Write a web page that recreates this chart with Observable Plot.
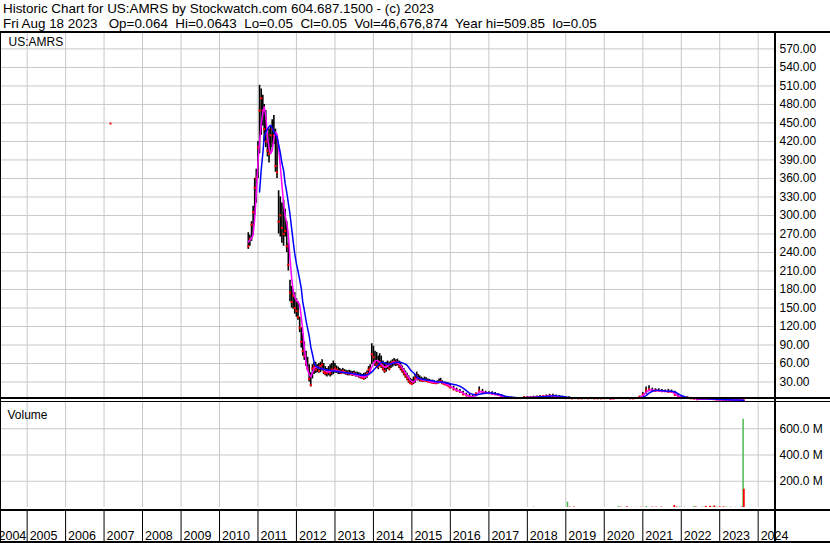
<!DOCTYPE html>
<html><head><meta charset="utf-8">
<script src="https://cdn.jsdelivr.net/npm/d3@7"></script>
<script src="https://cdn.jsdelivr.net/npm/@observablehq/plot@0.6"></script>
<style>
body{margin:0;background:#fff}
#wrap{position:relative;width:830px;height:543px;background:#fff;overflow:hidden;font-family:"Liberation Sans",Arial,sans-serif;color:#000}
.abs{position:absolute}
.ln{position:absolute;background:#000}
#hdr{left:3px;top:1px;font-size:13.4px;line-height:15px;white-space:pre}
</style></head><body>
<div id="wrap">
<div id="hdr" class="abs"></div>
<div id="main" class="abs" style="left:0;top:33px"></div>
<div id="vol" class="abs" style="left:0;top:402px"></div>
<div id="xax" class="abs" style="left:0;top:511px"></div>
<div class="ln" style="left:0;top:31px;width:830px;height:2px"></div>
<div class="ln" style="left:0;top:397px;width:830px;height:2px"></div>
<div class="ln" style="left:0;top:401px;width:830px;height:1px"></div>
<div class="ln" style="left:0;top:509px;width:830px;height:2px"></div>
<div class="ln" style="left:0;top:541px;width:830px;height:2px"></div>
<div class="ln" style="left:774px;top:31px;width:2px;height:512px"></div>
<div class="ln" style="left:0;top:31px;width:1px;height:512px"></div>
</div>
<script>
const headerLines = [
  "Historic Chart for US:AMRS by Stockwatch.com 604.687.1500 - (c) 2023",
  "Fri Aug 18 2023   Op=0.064  Hi=0.0643  Lo=0.05  Cl=0.05  Vol=46,676,874  Year hi=509.85  lo=0.05"
];
const symbolLabel = "US:AMRS";
const volumeLabel = "Volume";

const priceDates = [
"2010-10-01","2010-10-16","2010-11-01","2010-11-16","2010-12-01","2010-12-16",
"2011-01-01","2011-01-16","2011-02-01","2011-02-16","2011-03-01","2011-03-16","2011-04-01","2011-04-16","2011-05-01","2011-05-16","2011-06-01","2011-06-16",
"2011-07-01","2011-07-16","2011-08-01","2011-08-16","2011-09-01","2011-09-16","2011-10-01","2011-10-16","2011-11-01","2011-11-16","2011-12-01","2011-12-16",
"2012-01-01","2012-01-16","2012-02-01","2012-02-16","2012-03-01","2012-03-16","2012-04-01","2012-04-16","2012-05-01","2012-05-16","2012-06-01","2012-06-16",
"2012-07-01","2012-07-16","2012-08-01","2012-08-16","2012-09-01","2012-09-16","2012-10-01","2012-10-16","2012-11-01","2012-11-16","2012-12-01","2012-12-16",
"2013-01-01","2013-01-16","2013-02-01","2013-02-16","2013-03-01","2013-03-16","2013-04-01","2013-04-16","2013-05-01","2013-05-16","2013-06-01","2013-06-16",
"2013-07-01","2013-07-16","2013-08-01","2013-08-16","2013-09-01","2013-09-16","2013-10-01","2013-10-16","2013-11-01","2013-11-16","2013-12-01","2013-12-16",
"2014-01-01","2014-01-16","2014-02-01","2014-02-16","2014-03-01","2014-03-16","2014-04-01","2014-04-16","2014-05-01","2014-05-16","2014-06-01","2014-06-16",
"2014-07-01","2014-07-16","2014-08-01","2014-08-16","2014-09-01","2014-09-16","2014-10-01","2014-10-16","2014-11-01","2014-11-16","2014-12-01","2014-12-16",
"2015-01-01","2015-01-16","2015-02-01","2015-02-16","2015-03-01","2015-03-16","2015-04-01","2015-04-16","2015-05-01","2015-05-16","2015-06-01","2015-06-16",
"2015-07-01","2015-07-16","2015-08-01","2015-08-16","2015-09-01","2015-09-16","2015-10-01","2015-10-16","2015-11-01","2015-11-16","2015-12-01","2015-12-16",
"2016-01-01","2016-02-01","2016-03-01","2016-04-01","2016-05-01","2016-06-01","2016-07-01","2016-08-01","2016-09-01","2016-10-01","2016-11-01","2016-12-01",
"2017-01-01","2017-02-01","2017-03-01","2017-04-01","2017-05-01","2017-06-01","2017-07-01","2017-08-01","2017-09-01","2017-10-01","2017-11-01","2017-12-01",
"2018-01-01","2018-02-01","2018-03-01","2018-04-01","2018-05-01","2018-06-01","2018-07-01","2018-08-01","2018-09-01","2018-10-01","2018-11-01","2018-12-01",
"2019-01-01","2019-02-01","2019-03-01","2019-04-01","2019-05-01","2019-06-01","2019-07-01","2019-08-01","2019-09-01","2019-10-01","2019-11-01","2019-12-01",
"2020-01-01","2020-02-01","2020-03-01","2020-04-01","2020-05-01","2020-06-01","2020-07-01","2020-08-01","2020-09-01","2020-10-01","2020-11-01","2020-12-01",
"2021-01-01","2021-02-01","2021-03-01","2021-04-01","2021-05-01","2021-06-01","2021-07-01","2021-08-01","2021-09-01","2021-10-01","2021-11-01","2021-12-01",
"2022-01-01","2022-02-01","2022-03-01","2022-04-01","2022-05-01","2022-06-01","2022-07-01","2022-08-01","2022-09-01","2022-10-01","2022-11-01","2022-12-01",
"2023-01-01","2023-02-01","2023-03-01","2023-04-01","2023-05-01","2023-06-01","2023-07-01","2023-08-01","2023-08-18"
];
const high = [
272,268,290,315,360,375,420,511,505,495,
480,470,430,440,445,455,462,440,425,340,
330,320,325,310,290,255,195,185,180,175,
165,160,135,118,108,95,80,70,58,45,
58,62,62,58,60,62,66,60,55,52,
55,58,60,64,60,56,54,52,50,52,
50,49,48,49,48,47,48,46,46,45,
44,42,44,45,48,55,58,92,88,80,
78,72,76,72,64,60,62,64,62,64,
66,68,66,67,64,62,56,52,48,44,
40,36,34,38,42,46,42,40,38,36,
38,37,35,34,33,33,32,31,32,35,
36,32,30,30,29,28,
26,23,20,18,15,12,10,9,12,22,18,15,
14,14,13,11,9,7,6,5,5,5,5,6,
6,6,7,7,8,8,9,10,10,9,8,7,
6,6,5,5,4.5,4.5,5,5,5,4.5,4.5,4.5,
4.5,5,4.5,4.5,5,5,4.8,5,4.5,4.5,5,7,
13,22,24,20,19,19,18,17,18,17,15,10,
7,6,6,5,4,3.5,3.5,4,3.5,3,3,2.5,
2,1.8,1.5,1.2,1,1,0.8,0.6,0.0643
];
const low = [
245,250,258,268,300,320,360,400,430,445,
420,410,395,385,400,410,415,370,360,270,
265,255,250,265,240,210,160,150,148,140,
135,130,110,85,72,65,55,48,30,22,
35,42,44,45,44,45,48,42,40,38,
40,38,40,42,44,44,42,42,42,43,
42,41,40,40,40,39,40,38,38,36,
35,34,33,34,36,40,44,58,60,55,
52,50,55,52,48,44,46,50,48,52,
54,56,55,56,52,48,44,40,36,32,
28,26,25,26,28,32,32,30,30,29,
30,30,29,28,27,27,26,26,27,27,
28,26,25,24,23,21,
19,16,14,12,9,7,6,5,6,12,11,10,
10,9,8,7,5,4,3.5,3,3,3,3,3.5,
4,4,4,5,5,5.5,6,6,6,5,5,4,
3,3,3,3,3,3,3,3,3,2.8,2.8,3,
3,3,2,2.5,3.5,3.5,3.5,3.5,3,3,3,3.5,
6,10,14,14,13,14,13,13,12,12,8,5,
4,3.5,3.5,3,2.5,1.5,1.8,2.2,2,2,1.8,1.2,
1,1,0.9,0.7,0.5,0.5,0.4,0.2,0.05
];
const close = [
250,262,285,305,345,360,410,470,490,470,
440,420,405,400,430,440,430,380,370,290,
300,280,270,275,250,220,175,160,170,150,
145,135,118,95,80,72,60,52,35,25,
52,55,50,54,48,56,58,46,44,45,
48,44,50,48,52,50,48,46,45,48,
46,44,45,44,43,42,44,42,41,40,
38,37,36,40,44,50,52,75,70,62,
58,55,62,56,52,48,55,58,52,60,
62,63,60,62,56,52,48,44,40,36,
32,28,27,30,36,40,36,34,33,32,
33,32,31,30,30,29,29,28,29,30,
31,28,27,26,25,23,
21,18,16,14,10,8,7,6,11,16,13,12,
12,11,10,9,6,5,4.5,4,4,4,4,5,
5,5,5,6,6,7,7,8,7,6,6,5,
4,4,3.5,4,3.5,3.5,4,3.5,4,3.5,3.5,3.5,
3.8,4,3,3.5,4,4,4,4,3.5,3.5,4,6,
10,16,18,16,16,16,15,15,14,14,9,6,
5,4.5,4.5,3.5,3,2,2.5,3,2.5,2.5,2.2,1.5,
1.3,1.3,1,0.9,0.7,0.6,0.5,0.3,0.05
];
const maShort = [
257,260,263,268,295,335,385,420,448,468,
476,462,427,410,400,405,425,435,432,410,
380,350,320,300,288,270,230,200,178,168,
162,160,155,135,115,85,62,49,43,38,
45,52,54,54,53,52,52,50,48,47,
46,47,48,49,49,48,48,47,46,46,
46,45,44,44,43,43,42,41,40,40,
39,39,38,38,40,43,48,54,60,64,
65,64,61,59,56,54,54,56,58,59,
61,62,62,61,59,57,53,49,45,41,
37,33,31,30,32,35,36,35,34,33,
33,33,32,31,30,30,29,29,29,30,
30,29,28,27,26,25,
23,20,17,15,12,9,7,6,8,14,14,13,
12,11,10,9,7,5.5,4.5,4,4,4,4,4.5,
5,5,5,5.5,6,6.5,7,7.5,7.5,6.5,6,5,
4.5,4,3.5,3.8,3.6,3.6,3.8,3.7,3.8,3.6,3.5,3.6,
3.8,3.9,3.3,3.4,3.9,4,4,4,3.7,3.6,3.9,5,
8,13,17,17,16,16,15.5,15,14.5,14,11,7.5,
5.5,4.8,4.5,3.8,3.2,2.4,2.4,2.8,2.6,2.5,2.2,1.7,
1.4,1.3,1.1,0.95,0.75,0.65,0.55,0.35,0.1
];
const maLong = [
null,null,null,null,null,null,null,338,375,400,
427,435,440,444,446,442,435,431,427,415,
402,385,373,352,338,320,302,280,258,238,
222,210,196,182,160,146,130,117,105,87,
75,63,56,54,53,52,51,51,50,50,
49,49,48,48,48,47,47,46,46,46,
45,45,45,44,44,44,43,43,42,42,
41,41,41,41,42,43,44,46,49,52,
55,57,60,62,62,61,60,59,59,59,
60,61,61,62,62,62,61,60,59,57,
54,50,47,45,42,39,36,35,35,34,
34,33,33,33,32,32,31,31,30,30,
30,30,29,29,28,28,
27,26,25,23,20,16,12,10,9,10,11,12,
12,12,11,10,9,7,6,5.5,5,4.5,4.5,4.5,
5,5,5,5.5,5.5,6,6.5,7,7.5,7.5,7,6.5,
5.5,5,4.5,4.2,4,4,4,4,4,4,3.8,3.8,
3.8,3.9,3.7,3.6,3.7,3.9,4,4,4,3.8,3.8,4.2,
5.5,8,12,15,16.5,16.5,16,15.5,15,15,14,11,
8,6,5,4.5,4,3.2,2.8,2.7,2.7,2.6,2.5,2.2,
1.8,1.5,1.3,1.1,0.95,0.8,0.65,0.5,0.4
];
const strayDates = ["2007-03-03"];
const strayValues = [449];

const volDates = ["2018-03-01","2019-01-17","2019-02-06","2019-03-20","2020-05-14","2020-06-04","2020-08-04","2020-09-20","2020-10-30","2020-12-15",
"2021-02-03","2021-04-01","2021-05-08","2021-06-25","2021-10-27","2021-11-20","2021-12-20","2022-02-01","2022-05-01","2022-05-20",
"2022-07-20","2022-08-21","2022-10-01","2022-10-20","2022-11-10","2022-12-01","2023-01-01","2023-02-05","2023-03-01","2023-04-15",
"2023-06-01","2023-07-28","2023-08-11","2023-08-18"];
const volumeM = [3,41,3,3,8,3,6,2,2,2, 8,3,3,3,15,4,3,3,8,3, 3,9,9,3,12,4,5,5,4,3, 3,3,672,139];
const volUp =   [1,1,0,0,1,0,0,1,1,0, 1,0,0,0,0,0,1,1,1,0, 1,0,0,1,0,1,0,0,1,1, 1,0,1,0];

const gridYears = ["2005","2006","2007","2008","2009","2010","2011","2012","2013","2014","2015","2016","2017","2018","2019","2020","2021","2022","2023","2024"];
const yearLabels = ["2004","2005","2006","2007","2008","2009","2010","2011","2012","2013","2014","2015","2016","2017","2018","2019","2020","2021","2022","2023","2024"];
const priceTicks = [30,60,90,120,150,180,210,240,270,300,330,360,390,420,450,480,510,540,570];
const volTicks = [200,400,600];

document.getElementById("hdr").textContent = headerLines.join("\n");

const parse = d3.utcParse("%Y-%m-%d");
const rows = priceDates.map((d, i) => ({date: parse(d), hi: high[i], lo: low[i], cl: close[i], m: maShort[i], b: maLong[i]}));
const stray = strayDates.map((d, i) => ({date: parse(d), v: strayValues[i]}));
const volRows = volDates.map((d, i) => ({date: parse(d), v: volumeM[i], up: volUp[i] === 1}));
const gridDates = gridYears.map(y => parse(y + "-01-01"));
const xDomain = [parse("2004-04-23"), parse("2024-06-04")];

const common = {
  width: 830, marginLeft: 0, marginRight: 56, marginTop: 0, marginBottom: 0,
  x: {type: "utc", domain: xDomain, axis: null},
  style: {background: "transparent", color: "#000", fontFamily: "'Liberation Sans', Arial, sans-serif", fontSize: "12px", overflow: "visible"}
};

const main = Plot.plot({
  ...common, height: 367,
  y: {domain: [0, 595], axis: null},
  marks: [
    Plot.ruleX(gridDates, {stroke: "#c8c8c8", strokeWidth: 1}),
    Plot.ruleY(priceTicks, {stroke: "#c8c8c8", strokeWidth: 1}),
    Plot.axisY(priceTicks, {anchor: "right", tickSize: 0, tickPadding: 5, tickFormat: d => d.toFixed(2), label: null, fontSize: 12}),
    Plot.ruleX(rows, {x: "date", y1: "lo", y2: "hi", stroke: "#000", strokeWidth: 1.6}),
    Plot.dot(rows, {x: "date", y: "cl", symbol: "square", r: 1.2, fill: "#ff0000", stroke: null}),
    Plot.line(rows, {x: "date", y: "m", stroke: "#ff00ff", strokeWidth: 1.5}),
    Plot.line(rows, {x: "date", y: "b", stroke: "#0000ff", strokeWidth: 1.5}),
    Plot.dot(stray, {x: "date", y: "v", symbol: "square", r: 1.1, fill: "#ff0000", stroke: null}),
    Plot.text([symbolLabel], {frameAnchor: "top-left", dx: 8, dy: 12.5, lineAnchor: "bottom", textAnchor: "start", fontSize: 12})
  ]
});
document.getElementById("main").appendChild(main);

const vol = Plot.plot({
  ...common, height: 105,
  y: {domain: [0, 800], axis: null},
  marks: [
    Plot.ruleX(gridDates, {stroke: "#c8c8c8", strokeWidth: 1}),
    Plot.ruleY(volTicks, {stroke: "#c8c8c8", strokeWidth: 1}),
    Plot.axisY(volTicks, {anchor: "right", tickSize: 0, tickPadding: 5, tickFormat: d => d.toFixed(1) + " M", label: null, fontSize: 12}),
    Plot.ruleX(volRows.filter(r => r.up), {x: "date", y1: 0, y2: "v", stroke: "#4db84d", strokeWidth: 1.5}),
    Plot.ruleX(volRows.filter(r => !r.up), {x: "date", y1: 0, y2: "v", stroke: "#ff0000", strokeWidth: 1.8}),
    Plot.text([volumeLabel], {frameAnchor: "top-left", dx: 7, dy: 16, lineAnchor: "bottom", textAnchor: "start", fontSize: 12})
  ]
});
document.getElementById("vol").appendChild(vol);

const xax = Plot.plot({
  ...common, height: 30,
  marks: [
    Plot.ruleX(gridDates, {stroke: "#000", strokeWidth: 1}),
    Plot.text(yearLabels.slice(0, 1), {x: () => xDomain[0], text: d => d, frameAnchor: "bottom", lineAnchor: "bottom", dy: -2, dx: -2, textAnchor: "start", fontSize: 12.5}),
    Plot.text(yearLabels.slice(1), {x: d => parse(d + "-01-01"), text: d => d, frameAnchor: "bottom", lineAnchor: "bottom", dy: -2, dx: 2.5, textAnchor: "start", fontSize: 12.5})
  ]
});
document.getElementById("xax").appendChild(xax);
</script>
</body></html>
